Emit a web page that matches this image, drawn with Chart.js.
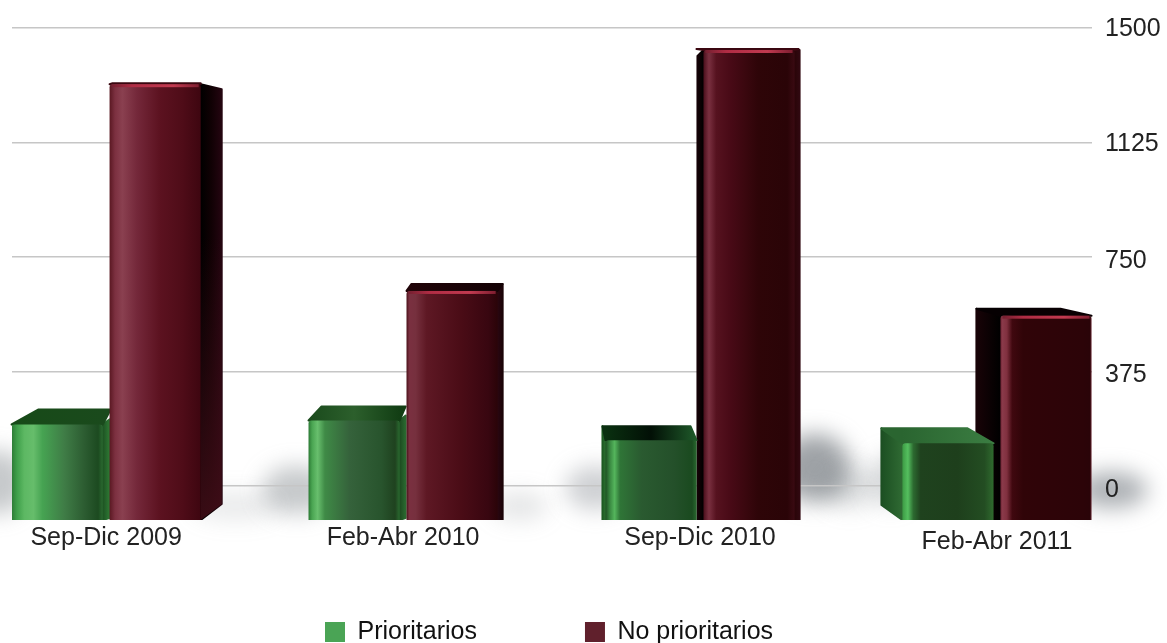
<!DOCTYPE html>
<html><head><meta charset="utf-8">
<script src="https://cdn.jsdelivr.net/npm/chart.js@4"></script>
<style>html,body{margin:0;padding:0;background:#fff}canvas{display:block;filter:blur(.55px)}</style>
</head><body><canvas id="c" width="1167" height="643"></canvas>
<script>
const categories = ['Sep-Dic 2009','Feb-Abr 2010','Sep-Dic 2010','Feb-Abr 2011'];
const prioritarios = [202,215,150,140];
const noPrioritarios = [1316,639,1428,558];
const yTicks = [0,375,750,1125,1500];
const seriesNames = ['Prioritarios','No prioritarios'];

// appearance only
const FONT = '"Liberation Sans", Arial, sans-serif';
const FRONT = [[
  [[0,'#2c7a35'],[.06,'#3f9f4a'],[.14,'#5db863'],[.24,'#66bd6b'],[.34,'#46a352'],[.58,'#3f7c46'],[.8,'#2c5c31'],[.95,'#1c4a20'],[1,'#2a6a30']],
  [[0,'#2c7a35'],[.04,'#4aa552'],[.1,'#68bf6d'],[.18,'#3f8a46'],[.45,'#35623b'],[.8,'#28542d'],[.95,'#1f421f'],[1,'#2a6a30']],
  [[0,'#1d4f22'],[.05,'#3a8a42'],[.1,'#54b55c'],[.16,'#2f7537'],[.4,'#2a5a30'],[.75,'#24502a'],[.95,'#1a4a1f'],[1,'#2a6a30']],
  [[0,'#3c9a44'],[.06,'#55bf5f'],[.12,'#2c6a30'],[.2,'#1f421e'],[.6,'#1e3f1c'],[.9,'#234d22'],[1,'#2f6a2e']]
],[
  [[0,'#5a1822'],[.06,'#7c3040'],[.14,'#8a4050'],[.3,'#74283a'],[.55,'#5c1220'],[.8,'#4f0c18'],[1,'#3e0610']],
  [[0,'#4a1018'],[.03,'#7a3040'],[.1,'#76303e'],[.22,'#5e1824'],[.6,'#4a0c16'],[.9,'#380610'],[1,'#2a0408']],
  [[0,'#4a0f1c'],[.06,'#7a3040'],[.14,'#56121f'],[.3,'#480a16'],[.6,'#2e0508'],[.92,'#2a0407'],[1,'#3a0a12']],
  [[0,'#6a2030'],[.02,'#8a3a4a'],[.07,'#80303f'],[.13,'#40080f'],[.25,'#300408'],[.9,'#2c0408'],[.98,'#2a0408'],[1,'#5c1c28']]
]];
// depth of each bar's 3D faces, in pixels relative to its front rectangle
const DEPTH = [[
  {top:{l:27,r:8,u:15,c:['#174a18','#1a4a1c']},right:{dx:7,dt:-5,db:2,c:['#1d5222','#2f7a35']}},
  {top:{l:13,r:6,u:14,c:['#1a4a1c','#2c5f2c','#123e14']},right:{dx:6,dt:-5,db:2,c:['#1d4a20','#2a6a30']}},
  {top:{l:-3,r:-6,u:14,c:['#0a3010','#021006','#1f5a2a']},left:{dx:3,dt:-14,db:0,c:['#1d5a22','#2b7030']}},
  {top:{l:-21,r:-26,u:15,c:['#2a6530','#3b7d42']},left:{dx:21,dt:-15,db:15,c:['#1c4f22','#2f6a33']}}
],[
  {top:{l:3,r:0,u:1,c:['#3a0710','#3a0710']},right:{dx:21,dt:5,db:16,c:['#000000','#100104','#240510'],fade:'rgba(66,14,24,.85)'}},
  {top:{l:5,r:5,u:7,c:['#200408','#140205']},right:{dx:5,dt:-7,db:0,c:['#2a0610','#1a0307']}},
  {top:{l:-7,r:4,u:1,c:['#3a0710','#3a0710']},left:{dx:6,dt:6,db:0,c:['#140206','#000000']},right:{dx:5,dt:0,db:0,c:['#2a0408','#300810']}},
  {top:{l:-24,r:-31,u:7,c:['#060002','#0a0003']},left:{dx:24,dt:-7,db:0,c:['#180307','#000000']}}
]];
// soft floor shadows: anchored to a bar edge [dataset, index, edge, dx, cy above base, rx, ry, alpha]
const SHADOWS = [
  [0,0,'l',-14,38,30,32,.42],[1,0,'r',35,14,45,14,.16],[0,1,'l',-12,30,34,24,.42],[1,1,'r',22,14,28,14,.2],
  [0,2,'l',-10,32,30,22,.36],[1,2,'r',20,52,36,34,.72],[1,2,'r',55,32,26,20,.25],[0,3,'l',-12,40,22,26,.28],[1,3,'r',20,30,36,18,.62]
];
// small downward nudge of each value-axis label, in pixels
const Y_LABEL_NUDGE = [4,4,4,2,1];

const edge = (el,s)=> s==='l' ? el.x-el.width/2 : el.x+el.width/2;
function hGrad(ctx,a,b,stops){
  const g=ctx.createLinearGradient(a,0,b,0);
  if(Array.isArray(stops[0])) stops.forEach(s=>g.addColorStop(s[0],s[1]));
  else stops.forEach((c,i)=>g.addColorStop(stops.length>1?i/(stops.length-1):0,c));
  return g;
}
function poly(ctx,pts,fill){
  ctx.beginPath();pts.forEach((p,i)=>i?ctx.lineTo(p[0],p[1]):ctx.moveTo(p[0],p[1]));ctx.closePath();
  ctx.fillStyle=fill;ctx.fill();
  ctx.strokeStyle=fill;ctx.lineWidth=2;ctx.lineJoin='round';ctx.stroke();
}
const bars3d = {
  id:'bars3d',
  beforeDraw(chart){
    const ctx=chart.ctx;ctx.save();ctx.filter='blur(11px)';
    SHADOWS.forEach(([d,i,e,dx,up,rx,ry,a])=>{
      const el=chart.getDatasetMeta(d).data[i];
      ctx.fillStyle='rgba(120,126,132,'+a+')';
      ctx.beginPath();ctx.ellipse(edge(el,e)+dx,el.base-up,rx,ry,0,0,Math.PI*2);ctx.fill();
    });
    ctx.restore();
  },
  beforeDatasetsDraw(chart){
    const ctx=chart.ctx,a=chart.chartArea;
    ctx.save();
    ctx.beginPath();ctx.rect(0,0,chart.width,a.bottom);ctx.clip();
    [1,0].forEach(d=>{
      chart.getDatasetMeta(d).data.forEach((el,i)=>{
        const x0=edge(el,'l'),x1=edge(el,'r'),y=el.y,b=el.base,f=DEPTH[d][i];
        el.options=Object.assign({},el.options,{backgroundColor:hGrad(ctx,x0,x1,FRONT[d][i])});
        if(f.left){const s=f.left;
          poly(ctx,[[x0,y],[x0-s.dx,y+s.dt],[x0-s.dx,b-s.db],[x0,b]],hGrad(ctx,x0-s.dx,x0,s.c));}
        if(f.right){const s=f.right;
          const pts=[[x1,y],[x1+s.dx,y+s.dt],[x1+s.dx,b-s.db],[x1,b]];
          poly(ctx,pts,hGrad(ctx,x1,x1+s.dx,s.c));
          if(s.fade){
            const g=ctx.createLinearGradient(0,y+(b-y)*.35,0,b);
            g.addColorStop(0,'rgba(66,14,24,0)');g.addColorStop(1,s.fade);
            ctx.beginPath();pts.forEach((p,k)=>k?ctx.lineTo(p[0],p[1]):ctx.moveTo(p[0],p[1]));ctx.closePath();
            ctx.fillStyle=g;ctx.fill();
          }
        }
        const t=f.top;
        poly(ctx,[[x0,y],[x1,y],[x1+t.r,y-t.u],[x0+t.l,y-t.u]],hGrad(ctx,x0,x1,t.c));
      });
    });
    ctx.restore();
  },
  afterDatasetsDraw(chart){
    const ctx=chart.ctx;
    chart.getDatasetMeta(1).data.forEach((el,i)=>{
      const x0=edge(el,'l'),x1=edge(el,'r');
      const g=hGrad(ctx,x0,x1,[[0,'#6e1e2e'],[.25,'#b02c44'],[.7,'#c23a50'],[1,'#7a1c2e']]);
      ctx.fillStyle=g;ctx.fillRect(x0+2,el.y,el.width-4,3);
    });
  },
  afterLayout(chart){
    const l=chart.legend,p=l.options.labels.padding;
    l.top=619.5-p;
    l.left=325-p;
    const y=chart.scales.y,orig=y.getLabelItems;
    y.getLabelItems=function(a){
      return orig.call(this,a).map((it,i)=>({...it,options:{...it.options,
        translation:[it.options.translation[0],it.options.translation[1]+Y_LABEL_NUDGE[i]]}}));
    };
  }
};

new Chart(document.getElementById('c'),{
  type:'bar',
  data:{datasets:[
    {label:seriesNames[0],data:prioritarios.map((v,i)=>({x:i,y:v})),backgroundColor:'#4aa455',base:-111,borderRadius:3},
    {label:seriesNames[1],data:noPrioritarios.map((v,i)=>({x:i,y:v})),backgroundColor:'#60202c',base:-111,borderRadius:3}
  ]},
  options:{
    responsive:false,animation:false,events:[],
    layout:{padding:{left:12,top:25,right:0,bottom:0}},
    datasets:{bar:{categoryPercentage:.66,barPercentage:.93}},
    plugins:{
      tooltip:{enabled:false},
      legend:{position:'bottom',align:'start',maxHeight:30,
        labels:{boxWidth:20,boxHeight:20,padding:108,color:'#111',font:{family:FONT,size:25}}}
    },
    scales:{
      x:{type:'linear',offset:false,min:-0.317,max:3.32,
        grid:{display:false},border:{display:false},
        afterBuildTicks(s){s.ticks=categories.map((_,i)=>({value:i}));},
        afterFit(s){s.height=93;},
        ticks:{autoSkip:false,maxRotation:0,minRotation:0,padding:-5,color:'#222',
          font:c=>({family:FONT,size:25,lineHeight:c.index===3?1.5:1.2}),
          callback:v=>categories[v]}
      },
      y:{position:'right',min:-111,max:1500,
        grid:{color:'#c6c6c6',lineWidth:1.6,drawTicks:false},border:{display:false},
        afterBuildTicks(s){s.ticks=yTicks.map(v=>({value:v}));},
        afterFit(s){s.width=75;},
        ticks:{padding:13,crossAlign:'near',color:'#222',font:{family:FONT,size:25},callback:v=>String(v)}
      }
    }
  },
  plugins:[bars3d]
});
</script></body></html>
